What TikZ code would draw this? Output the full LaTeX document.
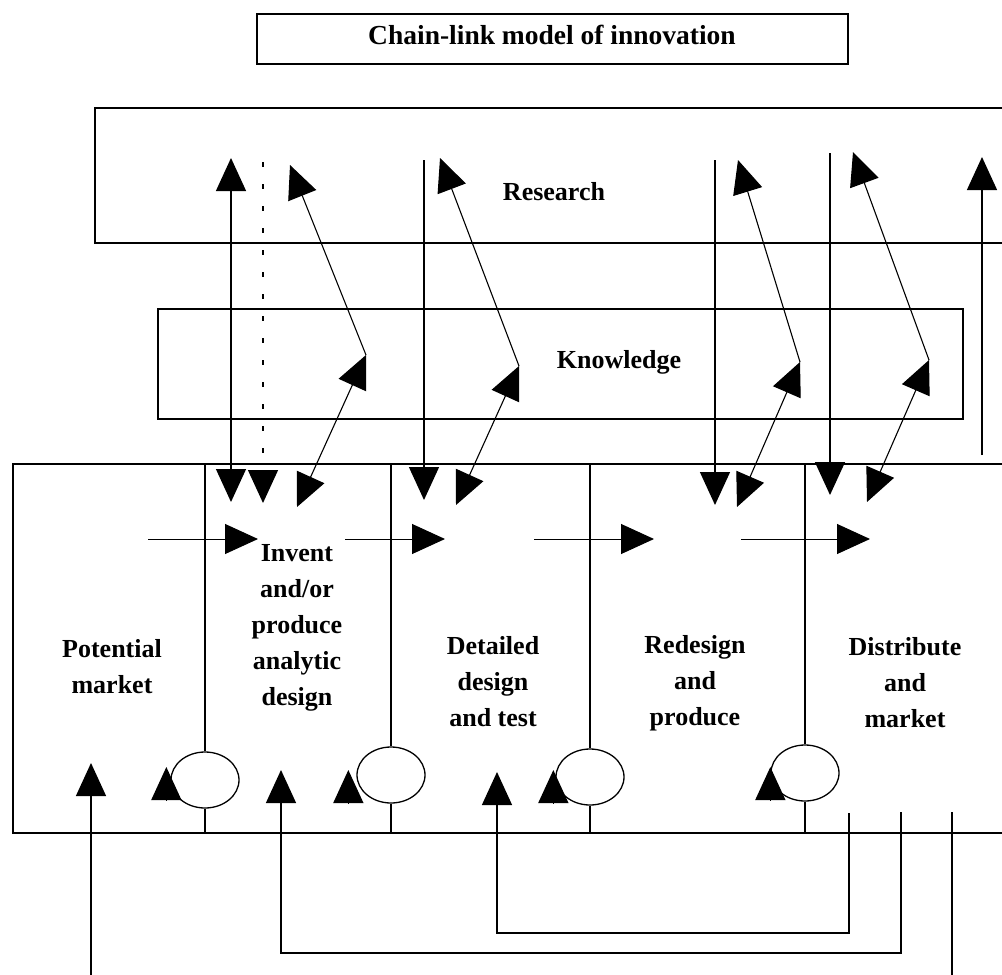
\documentclass[tikz,border=0pt]{standalone}
\usepackage{fontspec}
\setmainfont{Liberation Serif}
\usetikzlibrary{arrows.meta,shapes.geometric}
\begin{document}
\begin{tikzpicture}[x=1pt,y=-1pt,line width=1.3pt,
  box/.style={draw,rectangle,inner sep=0pt},
  lbl/.style={font=\fontsize{26}{36}\selectfont\bfseries,align=center,inner sep=0pt},
  ring/.style={draw,ellipse,minimum width=68pt,minimum height=56pt,inner sep=0pt},
  oneway/.style={-{Triangle[length=33pt,width=30pt]}},
  twoway/.style={{Triangle[length=33pt,width=30pt]}-{Triangle[length=33pt,width=30pt]}},
  dotline/.style={dash pattern=on 5pt off 17pt}]
\clip (0,0) rectangle (1002,975);

% title
\node[box,minimum width=591pt,minimum height=50pt] (title) at (552.5,39) {};
\node[lbl,font=\fontsize{27.5}{36}\selectfont\bfseries] (titlelbl) at (552,35) {Chain-link model of innovation};

% research and knowledge
\node[box,minimum width=920pt,minimum height=135pt] (research) at (555,175.5) {};
\node[lbl] (researchlbl) at (554,192) {Research};
\node[box,minimum width=805pt,minimum height=110pt] (knowledge) at (560.5,364) {};
\node[lbl] (knowledgelbl) at (619,362) {Knowledge};

% bottom chain box
\node[box,minimum width=1002pt,minimum height=369pt] (chain) at (514,648.5) {};
\coordinate (btop) at (0,464);
\coordinate (bbot) at (0,833);

% stage labels
\node[lbl] (pm)  at (112,667) {Potential\\market};
\node[lbl] (inv) at (297,628) {Invent\\and/or\\produce\\analytic\\design};
\node[lbl] (det) at (493,682) {Detailed\\design\\and test};
\node[lbl] (red) at (695,683) {Redesign\\and\\produce};
\node[lbl] (dis) at (905,683) {Distribute\\and\\market};

% dividers with rings
\node[ring] (c1) at (205,780) {};
\node[ring] (c2) at (391,775) {};
\node[ring] (c3) at (590,777) {};
\node[ring] (c4) at (805,773) {};
\foreach \c in {c1,c2,c3,c4}{
  \draw (\c.north) -- (\c.north |- btop);
  \draw (\c.south) -- (\c.south |- bbot);
}
\draw[oneway] ([shift={(-4,20)}]c1.west) -- ([shift={(-4,-13)}]c1.west);
\draw[oneway] ([shift={(-8,28)}]c2.west) -- ([shift={(-8,-5)}]c2.west);
\draw[oneway] ([shift={(-2,26)}]c3.west) -- ([shift={(-2,-7)}]c3.west);
\draw[oneway] ([shift={(0,27)}]c4.west) -- ([shift={(0,-6)}]c4.west);

% forward chain arrows
\coordinate (h1s) at (148,539); \coordinate (h1e) at (258,539);
\coordinate (h2s) at (345,539); \coordinate (h2e) at (445,539);
\coordinate (h3s) at (534,539); \coordinate (h3e) at (654,539);
\coordinate (h4s) at (741,539); \coordinate (h4e) at (870,539);
\draw[oneway,line width=1pt] (h1s) -- (h1e);
\draw[oneway,line width=1pt] (h2s) -- (h2e);
\draw[oneway,line width=1pt] (h3s) -- (h3e);
\draw[oneway,line width=1pt] (h4s) -- (h4e);

% vertical research links
\coordinate (v1t) at (231,158); \coordinate (v1b) at (231,502);
\coordinate (v2t) at (263,162); \coordinate (v2b) at (263,503);
\coordinate (v3t) at (424,160); \coordinate (v3b) at (424,500);
\coordinate (v4t) at (715,160); \coordinate (v4b) at (715,505);
\coordinate (v5t) at (830,153); \coordinate (v5b) at (830,495);
\coordinate (v6b) at (982,455); \coordinate (v6t) at (982,157);
\draw[twoway] (v1b) -- (v1t);
\draw[oneway,dotline] (v2t) -- (v2b);
\draw[oneway] (v3t) -- (v3b);
\draw[oneway] (v4t) -- (v4b);
\draw[oneway] (v5t) -- (v5b);
\draw[oneway] (v6b) -- (v6t);

% diagonal knowledge links
\coordinate (a1b) at (297,507); \coordinate (a1k) at (366,355); \coordinate (a1r) at (290,165);
\coordinate (a2b) at (456,505); \coordinate (a2k) at (519,366); \coordinate (a2r) at (440,158);
\coordinate (a3b) at (737,507); \coordinate (a3k) at (800,362); \coordinate (a3r) at (738,160);
\coordinate (a4b) at (867,502); \coordinate (a4k) at (929,360); \coordinate (a4r) at (853,152);
\foreach \i in {1,2,3,4}{
  \draw[twoway,line width=1.1pt] (a\i b) -- (a\i k);
  \draw[oneway,line width=1.1pt] (a\i k) -- (a\i r);
}

% feedback loops
\coordinate (o1s) at (952,812); \coordinate (o1c) at (952,995); \coordinate (o1d) at (91,995); \coordinate (o1e) at (91,763);
\coordinate (o2s) at (901,812); \coordinate (o2c) at (901,953); \coordinate (o2d) at (281,953); \coordinate (o2e) at (281,770);
\coordinate (o3s) at (849,813); \coordinate (o3c) at (849,933); \coordinate (o3d) at (497,933); \coordinate (o3e) at (497,772);
\draw[oneway] (o1s) -- (o1c) -- (o1d) -- (o1e);
\draw[oneway] (o2s) -- (o2c) -- (o2d) -- (o2e);
\draw[oneway] (o3s) -- (o3c) -- (o3d) -- (o3e);
\end{tikzpicture}
\end{document}
